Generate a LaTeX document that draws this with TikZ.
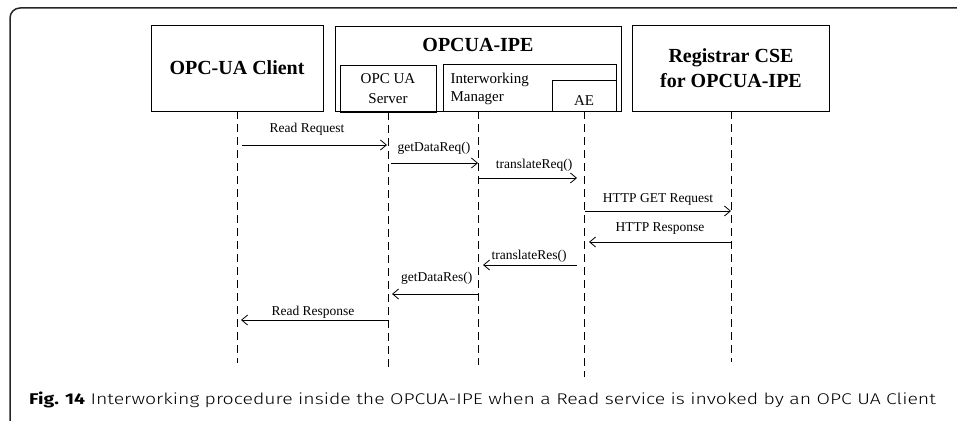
\documentclass[tikz,border=0pt]{standalone}
\usepackage{graphicx}
\usepackage{fontspec}
\setmainfont{Liberation Serif}
\newfontfamily\capfont{Fira Sans}[UprightFont={* Light},BoldFont={* Bold}]
\usetikzlibrary{arrows.meta}

\begin{document}
\begin{tikzpicture}[x=1pt, y=-1pt,
            box/.style={draw, rectangle, line width=0.8pt, inner sep=0pt},
            head/.style={font=\bfseries\fontsize{20}{25}\selectfont, align=center},
            part/.style={font=\fontsize{15}{20}\selectfont, align=center},
            life/.style={line width=0.8pt, dash pattern=on 8pt off 5pt},
            msg/.style={line width=0.8pt, -{Straight Barb[length=6pt,width=10pt]}},
            lbl/.style={font=\fontsize{13.5}{16}\selectfont, inner sep=0pt, anchor=base},
            capt/.style={font=\capfont\fontsize{15.5}{18}\selectfont, inner sep=0pt, anchor=base west}]
            \useasboundingbox (0,0) rectangle (957,420);
            \clip (0,0) rectangle (957,420);
            \draw[line width=1.5pt, black!85, rounded corners=10pt] (10,8) rectangle (980,440);
            % participants
            \node[box, head, minimum width=172pt, minimum height=86pt] (client) at (237,68) {OPC-UA Client};
            \node[box, minimum width=286pt, minimum height=85pt] (ipe) at (478,68.5) {};
            \node[head] (ipetitle) at (478,45) {OPCUA-IPE};
            \node[box, part, minimum width=96pt, minimum height=47pt] (server) at (388,88.5) {OPC UA\\Server};
            \node[box, minimum width=173pt, minimum height=47pt] (iwm) at (529.5,87.5) {};
            \node[part, font=\fontsize{15}{18}\selectfont, align=left, anchor=west] (iwmtext) at (447,89) {Interworking\\Manager};
            \node[box, part, minimum width=64pt, minimum height=31pt, text height=19pt] (ae) at (584,95.5) {AE};
            \node[box, head, minimum width=197pt, minimum height=86pt] (cse) at (731,68) {Registrar CSE\\for OPCUA-IPE};
            % lifelines
            \coordinate (iwmtop) at (478,111);
            \coordinate (clientend) at (237,363);
            \coordinate (serverend) at (388,370);
            \coordinate (iwmend) at (478,365);
            \coordinate (aeend) at (584,377);
            \coordinate (cseend) at (731,362);
            \draw[life] (client.south) -- (clientend);
            \draw[life] (server.south) -- (serverend);
            \draw[life] (iwmtop) -- (iwmend);
            \draw[life] (ae.south) -- (aeend);
            \draw[life] (cse.south) -- (cseend);
            % message rows
            \coordinate (readreq) at (0,145);
            \coordinate (getreq) at (0,163);
            \coordinate (transreq) at (0,178);
            \coordinate (httpreq) at (0,211);
            \coordinate (httpres) at (0,242);
            \coordinate (transres) at (0,265);
            \coordinate (getres) at (0,294);
            \coordinate (readres) at (0,320);
            \draw[msg, shorten <=5pt, shorten >=1pt] (client.south |- readreq) -- (server.south |- readreq);
            \draw[msg, shorten <=3pt] (server.south |- getreq) -- (iwmtop |- getreq);
            \draw[msg, shorten >=7pt] (iwmtop |- transreq) -- (ae.south |- transreq);
            \draw[msg, shorten <=1pt] (ae.south |- httpreq) -- (cse.south |- httpreq);
            \draw[msg, shorten >=5pt] (cse.south |- httpres) -- (ae.south |- httpres);
            \draw[msg, shorten <=7pt, shorten >=5pt] (ae.south |- transres) -- (iwmtop |- transres);
            \draw[msg, shorten >=4pt] (iwmtop |- getres) -- (server.south |- getres);
            \draw[msg, shorten >=4pt] (server.south |- readres) -- (client.south |- readres);
            % message labels
            \node[lbl] (readreqlbl) at (307,132.5) {Read Request};
            \node[lbl] (getreqlbl) at (434,151) {getDataReq()};
            \node[lbl] (transreqlbl) at (534,168) {translateReq()};
            \node[lbl] (httpreqlbl) at (658,202.7) {HTTP GET Request};
            \node[lbl] (httpreslbl) at (660,231.7) {HTTP Response};
            \node[lbl] (transreslbl) at (529,259.3) {translateRes()};
            \node[lbl] (getreslbl) at (436.7,281.7) {getDataRes()};
            \node[lbl] (readreslbl) at (313,315) {Read Response};
            % caption
            \node[capt] (caption) at (29,404) {\scalebox{1.255}[1]{\textbf{Fig. 14} Interworking procedure inside the OPCUA-IPE when a Read service is invoked by an OPC UA Client}};
\end{tikzpicture}
\end{document}
